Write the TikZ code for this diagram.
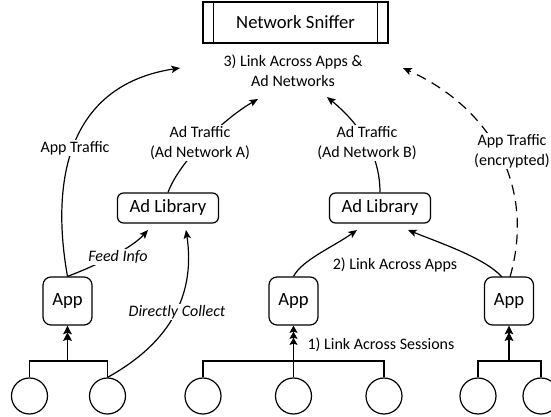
\documentclass[tikz,border=0pt]{standalone}
\usepackage{fontspec}
\setmainfont{Carlito}
\usetikzlibrary{arrows.meta,calc}
\begin{document}
\begin{tikzpicture}[x=0.75pt,y=-0.75pt,line width=0.9pt,
  nodefont/.style={font=\fontsize{14}{16}\selectfont},
  appbox/.style={draw,rounded corners=6pt,minimum width=36.75pt,minimum height=36pt,inner sep=0pt,nodefont},
  adlib/.style={draw,rounded corners=4.5pt,minimum width=75.75pt,minimum height=22.5pt,inner sep=0pt,nodefont},
  leaf/.style={draw,circle,minimum size=27pt,inner sep=0pt},
  lbl/.style={fill=white,align=center,inner sep=1pt,font=\fontsize{12}{15}\selectfont},
  ilbl/.style={lbl,font=\fontsize{12}{15}\selectfont\itshape},
  arr/.style={-{Stealth[length=6.5pt,width=5.5pt,inset=1.5pt]}},
  stacktwo/.style={-{Stealth[length=6.5pt,width=6.5pt,inset=1.2pt,sep=-1.5pt]Stealth[length=6.5pt,width=6.5pt,inset=1.2pt]}},
  stackthree/.style={-{Stealth[length=5.5pt,width=6pt,inset=1pt,sep=-1pt]Stealth[length=5.5pt,width=6pt,inset=1pt,sep=-1pt]Stealth[length=5.5pt,width=6pt,inset=1pt]}},
  dashline/.style={dash pattern=on 7.5pt off 5pt}]
\useasboundingbox (0,0) rectangle (551,417);
\clip (0,0) rectangle (551,417);

% Network sniffer
\node[draw,minimum width=138.75pt,minimum height=30.75pt,inner sep=0pt,nodefont] (ns) at (295.5,22.5) {Network Sniffer};
\draw ([xshift=8.25pt]ns.north west) -- ([xshift=8.25pt]ns.south west);
\draw ([xshift=-8.25pt]ns.north east) -- ([xshift=-8.25pt]ns.south east);

% apps
\node[appbox] (lapp) at (67.5,301) {App};
\node[appbox] (mapp) at (293.5,301) {App};
\node[appbox] (rapp) at (509,301) {App};

% ad libraries
\node[adlib] (adA) at (168,208) {Ad Library};
\node[adlib] (adB) at (380,208) {Ad Library};

% leaves
\node[leaf] (c1) at (29.5,396) {};
\node[leaf] (c2) at (107.5,396) {};
\node[leaf] (c3) at (203,396) {};
\node[leaf] (c4) at (293.5,396) {};
\node[leaf] (c5) at (384,396) {};
\node[leaf] (c6) at (478,396) {};
\node[leaf] (c7) at (541,396) {};

% junctions
\coordinate (jL) at (67.5,361);
\coordinate (jM) at (293.5,361);
\coordinate (jR) at (509,361);
\draw (c1.north) |- (jL) -| (c2.north);
\draw (c3.north) |- (jM) -| (c5.north);
\draw (c4.north) -- (jM);
\draw (c6.north) |- (jR) -| (c7.north);
\draw[stacktwo] (jL) -- (lapp.south);
\draw[stackthree] (jM) -- (mapp.south);
\draw[stacktwo] (jR) -- (rapp.south);

% targets
\coordinate (tApp) at (180,68);
\coordinate (tA) at (258,99);
\coordinate (tB) at (327,97);
\coordinate (tEnc) at (403,68);
\coordinate (fA) at (148,230);
\coordinate (dA) at (186,230);
\coordinate (fB1) at (357,230);
\coordinate (fB2) at (408,230);
\coordinate (rs) at (502,277);
\coordinate (rd) at (510,277);

% connectors
\draw[arr] (lapp.north) .. controls (52,190) and (62,86) .. (tApp);
\draw[arr] (adA.north) .. controls (180,160) and (225,118) .. (tA);
\draw[arr] (adB.north) .. controls (380,150) and (355,120) .. (tB);
\draw[arr,dashline] (rd) .. controls (535,190) and (495,110) .. (tEnc);
\draw[arr] (lapp.north) .. controls (90,268) and (130,250) .. (fA);
\draw[arr] (c2.north) .. controls (175,340) and (195,290) .. (dA);
\draw[arr] (mapp.north) .. controls (302,260) and (333,247) .. (fB1);
\draw[arr] (rs) .. controls (485,258) and (440,243) .. (fB2);

% labels
\node[lbl] (l3) at (293,71) {3) Link Across Apps \&\\Ad Networks};
\node[lbl] (lAT) at (75,148) {App Traffic};
\node[lbl] (lA) at (200,143) {Ad Traffic\\(Ad Network A)};
\node[lbl] (lB) at (367,143) {Ad Traffic\\(Ad Network B)};
\node[lbl] (lE) at (512,151) {App Traffic\\(encrypted)};
\node[ilbl] (lF) at (118,257) {Feed Info};
\node[ilbl] (lD) at (177,312) {Directly Collect};
\node[lbl] (l2) at (395,265) {2) Link Across Apps};
\node[lbl] (l1) at (381,345) {1) Link Across Sessions};
\end{tikzpicture}
\end{document}
